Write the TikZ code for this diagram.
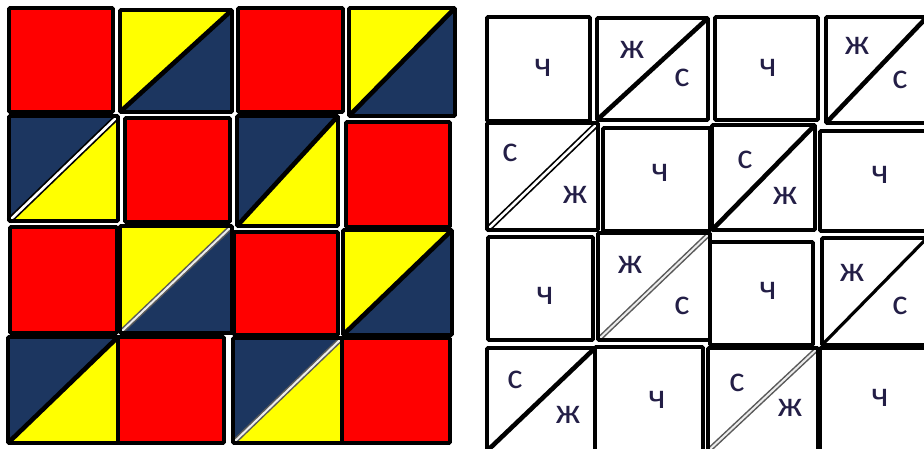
\documentclass[tikz,border=0pt]{standalone}
\usepackage{fontspec}
\setmainfont{Carlito}
\definecolor{cred}{RGB}{255,0,0}
\definecolor{cyel}{RGB}{255,255,0}
\definecolor{cnavy}{RGB}{28,54,96}
\definecolor{ctext}{RGB}{35,30,70}
\tikzset{
  cellline/.style={draw=black, line width=3.6pt, rounded corners=1pt},
  diagblack/.style={draw=black, line width=4.6pt},
  diagthin/.style={draw=black, line width=3.2pt},
  lett/.style={font=\fontsize{36}{40}\selectfont, text=ctext, inner sep=0pt}
}
% x1 y1 x2 y2
\newcommand\sqRed[4]{\filldraw[cellline, fill=cred] (#1,#2) rectangle (#3,#4);}
\newcommand\sqWhite[4]{\draw[cellline] (#1,#2) rectangle (#3,#4);}
% x1 y1 x2 y2 topleft bottomright diagkind(0 black,1 hollow,2 gray,3 thin)
\newcommand\sqDiag[7]{%
  \fill[#5] (#1,#2) -- (#3,#2) -- (#1,#4) -- cycle;
  \fill[#6] (#3,#2) -- (#3,#4) -- (#1,#4) -- cycle;
  \ifcase#7
    \draw[diagblack] (#1,#4) -- (#3,#2);
  \or
    \draw[black, line width=6pt] (#1,#4) -- (#3,#2);
    \draw[white, line width=2.6pt] (#1,#4) -- (#3,#2);
  \or
    \draw[gray!70!black, line width=5pt] (#1,#4) -- (#3,#2);
    \draw[white!85!gray, line width=2pt] (#1,#4) -- (#3,#2);
  \or
    \draw[diagthin] (#1,#4) -- (#3,#2);
  \fi
  \draw[cellline] (#1,#2) rectangle (#3,#4);}
\begin{document}
\begin{tikzpicture}[x=1pt,y=-1pt]
\useasboundingbox[fill=white] (0,0) rectangle (924,448);
\begin{scope}
\clip (0,0) rectangle (924,448);
% ---------- left coloured grid ----------
\sqRed{9}{8}{113}{112}
\sqDiag{120}{10}{232}{112}{cyel}{cnavy}{0}
\sqRed{238}{8}{343}{112}
\sqDiag{349}{8}{455}{116}{cyel}{cnavy}{0}
\sqDiag{9}{116}{118}{221}{cnavy}{cyel}{1}
\sqRed{125}{118}{230}{222}
\sqDiag{237}{116}{338}{226}{cnavy}{cyel}{0}
\sqRed{346}{122}{450}{227}
\sqRed{10}{227}{117}{333}
\sqDiag{120}{226}{232}{333}{cyel}{cnavy}{2}
\sqRed{234}{232}{338}{335}
\sqDiag{343}{230}{452}{335}{cyel}{cnavy}{0}
\sqDiag{8}{337}{118}{443}{cnavy}{cyel}{0}
\sqRed{118}{337}{224}{443}
\sqDiag{233}{338}{342}{443}{cnavy}{cyel}{2}
\sqRed{342}{338}{450}{443}
% ---------- right lettered grid ----------
\sqWhite{487}{17}{590}{121}
\sqDiag{597}{18}{708}{120}{white}{white}{0}
\sqWhite{715}{17}{818}{120}
\sqDiag{826}{17}{927}{123}{white}{white}{0}
\sqDiag{487}{123}{598}{230}{white}{white}{1}
\sqWhite{603}{128}{710}{231}
\sqDiag{712}{125}{815}{230}{white}{white}{0}
\sqWhite{820}{131}{927}{231}
\sqWhite{488}{237}{593}{340}
\sqDiag{598}{233}{710}{340}{white}{white}{2}
\sqWhite{710}{242}{813}{345}
\sqDiag{822}{238}{927}{345}{white}{white}{3}
\sqDiag{487}{348}{595}{451}{white}{white}{0}
\sqWhite{595}{347}{703}{451}
\sqDiag{708}{348}{818}{451}{white}{white}{2}
\sqWhite{820}{348}{927}{451}
\end{scope}
% letters
\node[lett] (t11) at (543,68) {ч};
\node[lett] (t12a) at (632,50) {ж};
\node[lett] (t12b) at (682,78) {с};
\node[lett] (t13) at (768,68) {ч};
\node[lett] (t14a) at (857,46) {ж};
\node[lett] (t14b) at (900,80) {с};
\node[lett] (t21a) at (510,153) {с};
\node[lett] (t21b) at (575,195) {ж};
\node[lett] (t22) at (660,173) {ч};
\node[lett] (t23a) at (745,160) {с};
\node[lett] (t23b) at (785,196) {ж};
\node[lett] (t24) at (880,175) {ч};
\node[lett] (t31) at (545,296) {ч};
\node[lett] (t32a) at (630,265) {ж};
\node[lett] (t32b) at (682,306) {с};
\node[lett] (t33) at (768,291) {ч};
\node[lett] (t34a) at (852,273) {ж};
\node[lett] (t34b) at (900,306) {с};
\node[lett] (t41a) at (515,380) {с};
\node[lett] (t41b) at (568,415) {ж};
\node[lett] (t42) at (657,400) {ч};
\node[lett] (t43a) at (737,383) {с};
\node[lett] (t43b) at (790,408) {ж};
\node[lett] (t44) at (880,398) {ч};
\end{tikzpicture}
\end{document}
